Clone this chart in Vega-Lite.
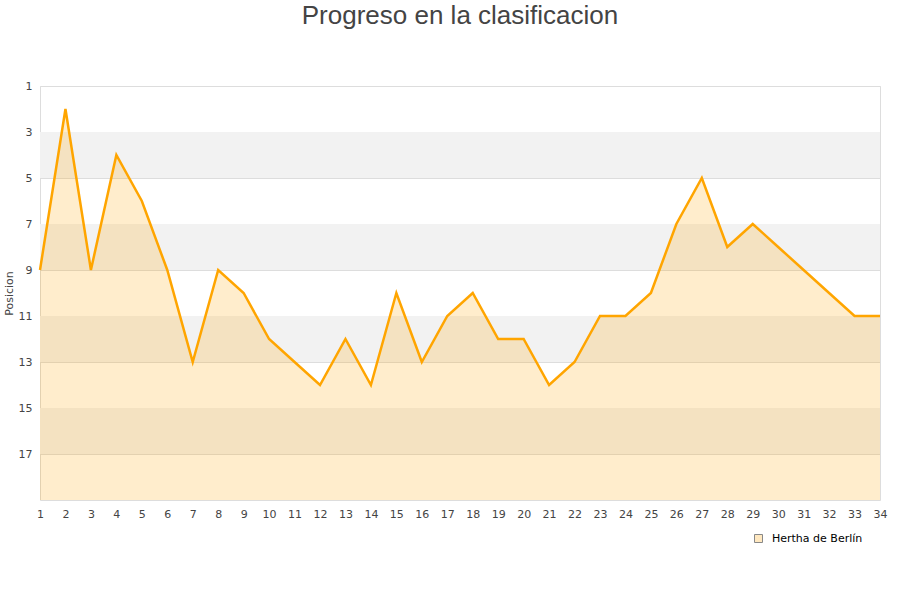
{
  "$schema": "https://vega.github.io/schema/vega-lite/v6.json",
  "autosize": "none",
  "width": 840,
  "height": 414,
  "padding": {"left": 40, "top": 86, "right": 20, "bottom": 100},
  "background": "white",
  "title": {
    "text": "Progreso en la clasificacion",
    "font": "Liberation Sans",
    "fontSize": 26,
    "fontWeight": "normal",
    "color": "#444444",
    "anchor": "middle",
    "frame": "group",
    "offset": 51
  },
  "config": {
    "view": {"stroke": "#dddddd", "strokeWidth": 1},
    "axis": {
      "labelFont": "DejaVu Sans",
      "labelFontSize": 11,
      "labelColor": "#444444",
      "titleFont": "DejaVu Sans",
      "titleFontSize": 11,
      "titleFontWeight": "normal",
      "titleColor": "#444444",
      "domain": false,
      "ticks": false
    }
  },
  "datasets": {
    "bandas": [
      {"desde": 3, "hasta": 5},
      {"desde": 7, "hasta": 9},
      {"desde": 11, "hasta": 13},
      {"desde": 15, "hasta": 17}
    ],
    "posiciones": [
      {"jornada": 1, "posicion": 9, "equipo": "Hertha de Berlín"},
      {"jornada": 2, "posicion": 2, "equipo": "Hertha de Berlín"},
      {"jornada": 3, "posicion": 9, "equipo": "Hertha de Berlín"},
      {"jornada": 4, "posicion": 4, "equipo": "Hertha de Berlín"},
      {"jornada": 5, "posicion": 6, "equipo": "Hertha de Berlín"},
      {"jornada": 6, "posicion": 9, "equipo": "Hertha de Berlín"},
      {"jornada": 7, "posicion": 13, "equipo": "Hertha de Berlín"},
      {"jornada": 8, "posicion": 9, "equipo": "Hertha de Berlín"},
      {"jornada": 9, "posicion": 10, "equipo": "Hertha de Berlín"},
      {"jornada": 10, "posicion": 12, "equipo": "Hertha de Berlín"},
      {"jornada": 11, "posicion": 13, "equipo": "Hertha de Berlín"},
      {"jornada": 12, "posicion": 14, "equipo": "Hertha de Berlín"},
      {"jornada": 13, "posicion": 12, "equipo": "Hertha de Berlín"},
      {"jornada": 14, "posicion": 14, "equipo": "Hertha de Berlín"},
      {"jornada": 15, "posicion": 10, "equipo": "Hertha de Berlín"},
      {"jornada": 16, "posicion": 13, "equipo": "Hertha de Berlín"},
      {"jornada": 17, "posicion": 11, "equipo": "Hertha de Berlín"},
      {"jornada": 18, "posicion": 10, "equipo": "Hertha de Berlín"},
      {"jornada": 19, "posicion": 12, "equipo": "Hertha de Berlín"},
      {"jornada": 20, "posicion": 12, "equipo": "Hertha de Berlín"},
      {"jornada": 21, "posicion": 14, "equipo": "Hertha de Berlín"},
      {"jornada": 22, "posicion": 13, "equipo": "Hertha de Berlín"},
      {"jornada": 23, "posicion": 11, "equipo": "Hertha de Berlín"},
      {"jornada": 24, "posicion": 11, "equipo": "Hertha de Berlín"},
      {"jornada": 25, "posicion": 10, "equipo": "Hertha de Berlín"},
      {"jornada": 26, "posicion": 7, "equipo": "Hertha de Berlín"},
      {"jornada": 27, "posicion": 5, "equipo": "Hertha de Berlín"},
      {"jornada": 28, "posicion": 8, "equipo": "Hertha de Berlín"},
      {"jornada": 29, "posicion": 7, "equipo": "Hertha de Berlín"},
      {"jornada": 30, "posicion": 8, "equipo": "Hertha de Berlín"},
      {"jornada": 31, "posicion": 9, "equipo": "Hertha de Berlín"},
      {"jornada": 32, "posicion": 10, "equipo": "Hertha de Berlín"},
      {"jornada": 33, "posicion": 11, "equipo": "Hertha de Berlín"},
      {"jornada": 34, "posicion": 11, "equipo": "Hertha de Berlín"}
    ]
  },
  "layer": [
    {
      "data": {"name": "bandas"},
      "mark": {"type": "rect", "color": "#f2f2f2"},
      "encoding": {
        "y": {
          "field": "desde",
          "type": "quantitative",
          "scale": {"domain": [1, 19], "reverse": true, "nice": false, "zero": false},
          "axis": {
            "values": [1, 3, 5, 7, 9, 11, 13, 15, 17],
            "grid": true,
            "gridColor": "#dddddd",
            "labelPadding": 8,
            "title": "Posicion",
            "titlePadding": 4
          }
        },
        "y2": {"field": "hasta"}
      }
    },
    {
      "data": {"name": "posiciones"},
      "mark": {"type": "area", "color": "#FFA500", "opacity": 0.2, "interpolate": "linear"},
      "encoding": {
        "x": {
          "field": "jornada",
          "type": "quantitative",
          "scale": {"domain": [1, 34], "nice": false, "zero": false},
          "axis": {
            "values": [1, 2, 3, 4, 5, 6, 7, 8, 9, 10, 11, 12, 13, 14, 15, 16, 17, 18, 19, 20, 21, 22, 23, 24, 25, 26, 27, 28, 29, 30, 31, 32, 33, 34],
            "grid": false,
            "labelPadding": 8,
            "labelFlush": false,
            "labelOverlap": false,
            "labelSeparation": 0,
            "labelBound": false,
            "title": null
          }
        },
        "y": {"field": "posicion", "type": "quantitative"},
        "y2": {"datum": 19}
      }
    },
    {
      "data": {"name": "posiciones"},
      "mark": {"type": "line", "color": "#FFA500", "strokeWidth": 2.5},
      "encoding": {
        "x": {
          "field": "jornada",
          "type": "quantitative",
          "axis": {
            "values": [1, 2, 3, 4, 5, 6, 7, 8, 9, 10, 11, 12, 13, 14, 15, 16, 17, 18, 19, 20, 21, 22, 23, 24, 25, 26, 27, 28, 29, 30, 31, 32, 33, 34],
            "grid": false,
            "labelPadding": 8,
            "labelFlush": false,
            "labelOverlap": false,
            "labelSeparation": 0,
            "labelBound": false,
            "title": null
          }
        },
        "y": {"field": "posicion", "type": "quantitative"}
      }
    },
    {
      "data": {"name": "posiciones"},
      "mark": {"type": "point", "shape": "square", "filled": true, "opacity": 0, "strokeWidth": 1},
      "encoding": {
        "x": {
          "field": "jornada",
          "type": "quantitative",
          "axis": {
            "values": [1, 2, 3, 4, 5, 6, 7, 8, 9, 10, 11, 12, 13, 14, 15, 16, 17, 18, 19, 20, 21, 22, 23, 24, 25, 26, 27, 28, 29, 30, 31, 32, 33, 34],
            "grid": false,
            "labelPadding": 8,
            "labelFlush": false,
            "labelOverlap": false,
            "labelSeparation": 0,
            "labelBound": false,
            "title": null
          }
        },
        "y": {"field": "posicion", "type": "quantitative"},
        "fill": {
          "field": "equipo",
          "type": "nominal",
          "scale": {"range": ["#FFE8C0"]},
          "legend": {
            "title": null,
            "orient": "none",
            "legendX": 713,
            "legendY": 447,
            "symbolType": "square",
            "symbolSize": 64,
            "symbolStrokeWidth": 1,
            "symbolOpacity": 1,
            "labelFont": "DejaVu Sans",
            "labelFontSize": 11,
            "labelColor": "#000000",
            "labelOffset": 8
          }
        },
        "stroke": {
          "field": "equipo",
          "type": "nominal",
          "scale": {"range": ["#888888"]},
          "legend": {
            "title": null,
            "orient": "none",
            "legendX": 713,
            "legendY": 447,
            "symbolType": "square",
            "symbolSize": 64,
            "symbolStrokeWidth": 1,
            "symbolOpacity": 1,
            "labelFont": "DejaVu Sans",
            "labelFontSize": 11,
            "labelColor": "#000000",
            "labelOffset": 8
          }
        }
      }
    }
  ]
}
